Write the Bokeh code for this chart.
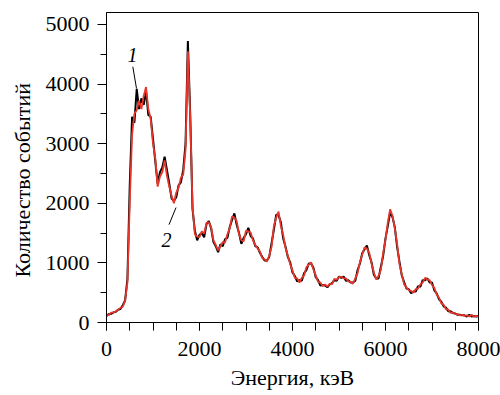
from bokeh.plotting import figure
from bokeh.models import FixedTicker, ColumnDataSource, Title
from bokeh.core.properties import value
from bokeh.embed import file_html
from bokeh.resources import INLINE

# Energy channels, keV (50 keV bins)
energy = list(range(0, 8001, 50))

# Spectrum 1 (black)
counts_1 = [
    110, 140, 145, 170, 180, 215, 225, 290, 370, 730,
    2300, 3450, 3350, 3920, 3580, 3760, 3650, 3880, 3480, 3450,
    3080, 2700, 2330, 2520, 2600, 2780, 2560, 2330, 2080, 2040,
    2100, 2300, 2350, 2560, 3000, 4720, 3500, 1900, 1540, 1380,
    1470, 1500, 1430, 1650, 1700, 1580, 1350, 1280, 1180, 1310,
    1280, 1400, 1420, 1600, 1720, 1830, 1640, 1500, 1320, 1420,
    1480, 1590, 1450, 1410, 1280, 1260, 1170, 1100, 1040, 1040,
    1100, 1330, 1560, 1810, 1800, 1680, 1410, 1270, 1100, 1010,
    840, 780, 690, 710, 700, 830, 880, 990, 990, 920,
    760, 710, 620, 630, 620, 590, 640, 660, 710, 700,
    770, 750, 770, 700, 710, 670, 670, 700, 880, 990,
    1160, 1230, 1290, 1130, 1010, 800, 740, 740, 930, 1120,
    1410, 1620, 1850, 1770, 1600, 1270, 1020, 790, 680, 570,
    560, 490, 520, 520, 610, 600, 710, 710, 740, 670,
    670, 540, 490, 390, 350, 270, 250, 190, 190, 160,
    150, 130, 130, 120, 120, 100, 130, 100, 110, 100,
    110,
]

# Spectrum 2 (red)
counts_2 = [
    125, 125, 165, 165, 190, 215, 245, 265, 370, 670,
    2000, 3150, 3500, 3560, 3720, 3580, 3800, 3950, 3580, 3420,
    3000, 2750, 2280, 2450, 2520, 2720, 2460, 2280, 2120, 2000,
    2180, 2260, 2430, 2480, 2900, 4550, 3450, 1950, 1480, 1440,
    1430, 1530, 1490, 1670, 1680, 1600, 1380, 1300, 1210, 1280,
    1350, 1340, 1480, 1580, 1780, 1760, 1700, 1480, 1380, 1360,
    1540, 1530, 1510, 1380, 1300, 1240, 1190, 1080, 1060, 1020,
    1120, 1270, 1620, 1760, 1860, 1620, 1470, 1250, 1120, 980,
    870, 750, 740, 670, 750, 790, 930, 970, 1010, 890,
    790, 680, 670, 610, 640, 600, 650, 640, 730, 720,
    760, 770, 740, 740, 690, 680, 650, 740, 830, 1010,
    1140, 1260, 1240, 1170, 990, 840, 720, 780, 880, 1170,
    1390, 1680, 1900, 1790, 1580, 1320, 980, 810, 640, 590,
    540, 530, 500, 560, 570, 640, 670, 750, 720, 710,
    630, 580, 470, 420, 320, 300, 220, 220, 160, 170,
    140, 140, 120, 130, 110, 120, 100, 130, 100, 110,
    100,
]

x_ticks = [0, 2000, 4000, 6000, 8000]
x_minor = list(range(0, 8001, 500))
y_ticks = [0, 1000, 2000, 3000, 4000, 5000]
y_minor = list(range(0, 5001, 500))

# Curve markers: label text, label position, leader line start/end
marker_text = ["1", "2"]
marker_x = [560, 1290]
marker_y = [4486, 1388]
leader_x0 = [566, 1344]
leader_y0 = [4290, 1641]
leader_x1 = [645, 1495]
leader_y1 = [3926, 1928]

FONT = "Liberation Serif"

p = figure(
    width=500, height=395,
    x_range=(0, 8000), y_range=(0, 5200),
    output_backend="svg", toolbar_location=None,
    min_border_left=106, min_border_right=22,
    min_border_top=12, min_border_bottom=73,
)

src = ColumnDataSource(dict(e=energy, c1=counts_1, c2=counts_2))
p.line("e", "c1", source=src, line_color="black", line_width=2)
p.line("e", "c2", source=src, line_color="#e8362b", line_width=1.8)

p.segment(x0=leader_x0, y0=leader_y0, x1=leader_x1, y1=leader_y1,
          line_color="black", line_width=1)
p.text(x=marker_x, y=marker_y, text=marker_text,
       text_font=value(FONT), text_font_style="italic",
       text_font_size="20px", text_align="center", text_baseline="middle",
       text_color="black")

p.grid.visible = False
p.outline_line_color = "black"
p.outline_line_width = 1

for ax in (p.xaxis[0], p.yaxis[0]):
    ax.major_label_text_font = FONT
    ax.major_label_text_font_size = "22px"
    ax.major_label_text_color = "black"
    ax.axis_label_text_font = FONT
    ax.axis_label_text_font_size = "22px"
    ax.axis_label_text_font_style = "normal"
    ax.axis_label_text_color = "black"
    ax.axis_line_color = "black"
    ax.major_tick_line_color = "black"
    ax.minor_tick_line_color = "black"
    ax.major_tick_in = 0
    ax.minor_tick_in = 0

p.xaxis.ticker = FixedTicker(ticks=x_ticks, minor_ticks=x_minor)
p.yaxis.ticker = FixedTicker(ticks=y_ticks, minor_ticks=y_minor)
p.xaxis.major_tick_out = 8
p.xaxis.minor_tick_out = 8
p.yaxis.major_tick_out = 9
p.yaxis.minor_tick_out = 6
p.xaxis.major_label_standoff = 11
p.yaxis.major_label_standoff = 8
p.xaxis.axis_label = "Энергия, кэВ"
p.xaxis.axis_label_standoff = 6

# Vertical axis title as a side title, anchored at its start
ytitle = Title(
    text="Количество событий", align="left", offset=45, standoff=15,
    text_font=FONT, text_font_size="22px", text_font_style="normal",
    text_color="black",
)
p.add_layout(ytitle, "left")

open("out.html", "w").write(file_html(p, INLINE))
